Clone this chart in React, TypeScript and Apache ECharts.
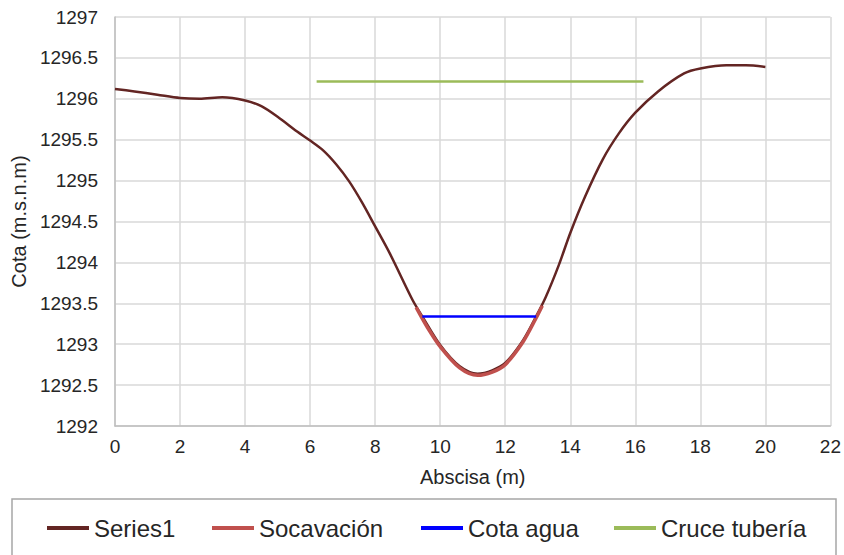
import React, { useEffect, useRef } from "react";
import * as echarts from "echarts";

const xTicks = { min: 0, max: 22, interval: 2 };
const yTicks = { min: 1292, max: 1297, interval: 0.5 };

const series1: [number, number][] = [
  [0, 1296.12], [0.6, 1296.09], [1.3, 1296.05], [2, 1296.01], [2.6, 1296.0],
  [3.3, 1296.02], [4, 1295.98], [4.5, 1295.91], [5, 1295.78], [5.6, 1295.6],
  [6, 1295.49], [6.4, 1295.37], [6.8, 1295.2], [7.2, 1294.99], [7.6, 1294.73],
  [8, 1294.44], [8.45, 1294.11], [9.15, 1293.54], [9.45, 1293.34], [10, 1292.99],
  [10.6, 1292.73], [11.15, 1292.64], [11.6, 1292.68], [12, 1292.77],
  [12.55, 1293.05], [12.95, 1293.34], [13.25, 1293.58], [13.65, 1293.97],
  [14, 1294.36], [14.45, 1294.8], [15, 1295.26], [15.5, 1295.58],
  [16, 1295.83], [16.7, 1296.09], [17.5, 1296.31], [18, 1296.37],
  [18.8, 1296.41], [19.4, 1296.41], [20, 1296.39],
];

const socavacion: [number, number][] = [
  [9.26, 1293.45], [9.6, 1293.21], [10, 1292.97], [10.6, 1292.71],
  [11.15, 1292.62], [11.6, 1292.66], [12, 1292.75], [12.55, 1293.03],
  [12.95, 1293.32], [13.14, 1293.47],
];

const cotaAgua: [number, number][] = [[9.45, 1293.34], [12.95, 1293.34]];
const cruceTuberia: [number, number][] = [[6.2, 1296.21], [16.25, 1296.21]];

const seriesNames = ["Series1", "Socavación", "Cota agua", "Cruce tubería"];
const seriesColors = ["#632523", "#c0504d", "#0000ff", "#9bbb59"];
const legendLefts = [47, 212, 421, 614];

const FONT = "'Liberation Sans', Arial, sans-serif";
const TEXT = "#262626";

export default function App() {
  const ref = useRef<HTMLDivElement>(null);
  useEffect(() => {
    if (!ref.current) return;
    const chart = echarts.init(ref.current, undefined, { renderer: "svg" });
    chart.setOption({
      animation: false,
      backgroundColor: "#ffffff",
      textStyle: { fontFamily: FONT },
      grid: { left: 115, right: 12, top: 17, bottom: 129, containLabel: false },
      xAxis: {
        type: "value",
        min: xTicks.min,
        max: xTicks.max,
        interval: xTicks.interval,
        name: "Abscisa (m)",
        nameLocation: "middle",
        nameGap: 41,
        nameTextStyle: { fontSize: 20, color: TEXT, fontFamily: FONT },
        axisLine: { show: true, lineStyle: { color: "#bfbfbf", width: 1.5 } },
        axisTick: { show: false },
        axisLabel: { fontSize: 19, color: TEXT, margin: 11, fontFamily: FONT },
        splitLine: { show: true, lineStyle: { color: "#d9d9d9", width: 1.5 } },
      },
      yAxis: {
        type: "value",
        min: yTicks.min,
        max: yTicks.max,
        interval: yTicks.interval,
        name: "Cota (m.s.n.m)",
        nameLocation: "middle",
        nameGap: 80,
        nameTextStyle: { fontSize: 20, color: TEXT, fontFamily: FONT },
        axisLine: { show: true, lineStyle: { color: "#bfbfbf", width: 1.5 } },
        axisTick: { show: false },
        axisLabel: {
          fontSize: 19,
          color: TEXT,
          margin: 17,
          fontFamily: FONT,
          formatter: (v: number) => String(v),
        },
        splitLine: { show: true, lineStyle: { color: "#d9d9d9", width: 1.5 } },
      },
      legend: seriesNames.map((n, i) => ({
        data: [{ name: n, icon: "rect", itemStyle: { color: seriesColors[i] } }],
        left: legendLefts[i],
        top: 516,
        padding: 0,
        itemWidth: 42,
        itemHeight: 4,
        textStyle: { fontSize: 24, color: TEXT, fontFamily: FONT },
      })),
      graphic: [
        {
          type: "rect",
          shape: { x: 12, y: 499, width: 824, height: 80 },
          style: { fill: "none", stroke: "#a6a6a6", lineWidth: 1.5 },
          silent: true,
        },
      ],
      series: [
        {
          name: seriesNames[0],
          type: "line",
          data: series1,
          smooth: 0.3,
          symbol: "none",
          lineStyle: { color: seriesColors[0], width: 2.5 },
          itemStyle: { color: seriesColors[0] },
          z: 2,
        },
        {
          name: seriesNames[1],
          type: "line",
          data: socavacion,
          smooth: 0.3,
          symbol: "none",
          lineStyle: { color: seriesColors[1], width: 3.5 },
          itemStyle: { color: seriesColors[1] },
          z: 3,
        },
        {
          name: seriesNames[2],
          type: "line",
          data: cotaAgua,
          symbol: "none",
          lineStyle: { color: seriesColors[2], width: 2.5 },
          itemStyle: { color: seriesColors[2] },
          z: 4,
        },
        {
          name: seriesNames[3],
          type: "line",
          data: cruceTuberia,
          symbol: "none",
          lineStyle: { color: seriesColors[3], width: 2.5 },
          itemStyle: { color: seriesColors[3] },
          z: 4,
        },
      ],
    });
    return () => chart.dispose();
  }, []);
  return (
    <div
      ref={ref}
      style={{ position: "fixed", left: 0, top: 0, width: 844, height: 555 }}
    />
  );
}
